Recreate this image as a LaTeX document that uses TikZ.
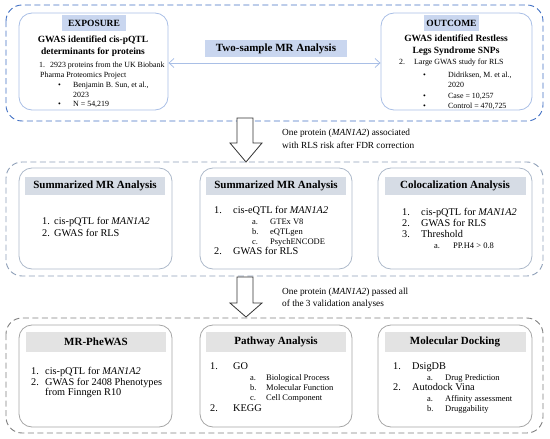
\documentclass[tikz,border=0pt]{standalone}
\usepackage{fontspec}
\setmainfont{Liberation Serif}
\usetikzlibrary{arrows.meta}
\definecolor{bOut}{HTML}{4472C4}
\definecolor{bIn}{HTML}{A9BFE6}
\definecolor{bFill}{HTML}{C9D6EF}
\definecolor{gOut}{HTML}{8FA0B8}
\definecolor{gIn}{HTML}{ADB9CA}
\definecolor{gFill}{HTML}{D6DCE5}
\definecolor{kOut}{HTML}{808080}
\definecolor{kIn}{HTML}{A6A6A6}
\definecolor{kFill}{HTML}{E3E3E3}
\tikzset{
  outerbox/.style={draw, dashed, dash pattern=on 6pt off 3.5pt, line width=0.9pt, rounded corners=16pt},
  innerbox/.style={draw, line width=0.8pt, rounded corners=13pt, fill=white},
  hdr/.style={inner sep=0pt, font=\bfseries\fontsize{11}{13}\selectfont},
  hdrs/.style={inner sep=0pt, font=\bfseries\fontsize{9.5}{11}\selectfont},
  ttl/.style={inner sep=0pt, align=center, font=\bfseries\fontsize{9.5}{12}\selectfont},
  tb/.style={inner sep=0pt, anchor=mid west, font=\fontsize{7.9}{10}\selectfont},
  tx/.style={inner sep=0pt, anchor=mid west, font=\fontsize{10.3}{12}\selectfont},
  ts/.style={inner sep=0pt, anchor=mid west, font=\fontsize{8.5}{10}\selectfont},
  lbl/.style={inner sep=0pt, anchor=mid west, font=\fontsize{9.3}{11}\selectfont},
  blockarrow/.style={draw=black!80, line width=0.8pt, fill=white},
}
\begin{document}
\begin{tikzpicture}[x=1pt,y=-1pt]
\useasboundingbox (0,0) rectangle (550,439);
% ---------- Row 1 ----------
\draw[outerbox, draw=bOut] (6,5) rectangle (543,121);
\node[innerbox, draw=bIn, minimum width=149pt, minimum height=97pt] (expo) at (93.5,61.5) {};
\node[innerbox, draw=bIn, minimum width=151pt, minimum height=97pt] (outc) at (456.5,61.5) {};
\fill[bFill] (62,15) rectangle (126,31);
\node[hdrs] (expoh) at (94,23) {EXPOSURE};
\fill[bFill] (424,15) rectangle (479,31);
\node[hdrs] (outch) at (451.5,23) {OUTCOME};
\node[ttl] (expot) at (93,46.5) {GWAS identified cis-pQTL\\determinants for proteins};
\node[ttl] (outct) at (456,45.5) {GWAS identified Restless\\Legs Syndrome SNPs};
\node[tb] (e1n) at (39,65) {1.};
\node[tb] (e1t) at (50,65) {2923 proteins from the UK Biobank};
\node[tb] (e1u) at (40,75) {Pharma Proteomics Project};
\node[tb] (e1b1) at (58,85) {\textbullet};
\node[tb] (e1b1t) at (73,85) {Benjamin B. Sun, et al.,};
\node[tb] (e1b1u) at (73,95) {2023};
\node[tb] (e1b2) at (58,104) {\textbullet};
\node[tb] (e1b2t) at (73,104) {N = 54,219};
\node[tb] (o2n) at (399,62) {2.};
\node[tb] (o2t) at (414,62) {Large GWAS study for RLS};
\node[tb] (o2b1) at (423,75.5) {\textbullet};
\node[tb] (o2b1t) at (448,75.5) {Didriksen, M. et al.,};
\node[tb] (o2b1u) at (448,85.5) {2020};
\node[tb] (o2b2) at (423,96) {\textbullet};
\node[tb] (o2b2t) at (448,96) {Case = 10,257};
\node[tb] (o2b3) at (423,106) {\textbullet};
\node[tb] (o2b3t) at (448,106) {Control = 470,725};
\draw[bIn, line width=0.8pt, {Straight Barb[length=5pt,width=9pt]}-{Straight Barb[length=5pt,width=9pt]}]
  ([yshift=-1.5pt]expo.east) -- ([yshift=-1.5pt]outc.west);
\node[hdr, fill=bFill, minimum width=142pt, minimum height=17pt] (two) at (276,48.5) {Two-sample MR Analysis};
% ---------- Block arrow 1 ----------
\draw[blockarrow] (237,118) -- (253,118) -- (253,143) -- (262,143) -- (246,162) -- (230,143) -- (237,143) -- cycle;
\node[lbl] (l1a) at (282,133.5) {One protein (\textit{MAN1A2}) associated};
\node[lbl] (l1b) at (282,146.5) {with RLS risk after FDR correction};
% ---------- Row 2 ----------
\draw[outerbox, draw=gOut] (6,162) rectangle (543,276);
\node[innerbox, draw=gIn, minimum width=153pt, minimum height=101pt] (sm1) at (95.5,218.5) {};
\node[innerbox, draw=gIn, minimum width=152pt, minimum height=101pt] (sm2) at (276,218.5) {};
\node[innerbox, draw=gIn, minimum width=154pt, minimum height=101pt] (col) at (455,218.5) {};
\node[hdr, fill=gFill, minimum width=140pt, minimum height=18pt] (sm1h) at (95,186) {Summarized MR Analysis};
\node[hdr, fill=gFill, minimum width=140pt, minimum height=18pt] (sm2h) at (276,186) {Summarized MR Analysis};
\node[hdr, fill=gFill, minimum width=141pt, minimum height=18pt] (colh) at (455,186) {Colocalization Analysis};
\node[tx] (a1n) at (42,222) {1.};
\node[tx] (a1t) at (54,222) {cis-pQTL for \textit{MAN1A2}};
\node[tx] (a2n) at (42,234) {2.};
\node[tx] (a2t) at (54,234) {GWAS for RLS};
\node[tx] (b1n) at (214,211) {1.};
\node[tx] (b1t) at (233,211) {cis-eQTL for \textit{MAN1A2}};
\node[ts] (b1an) at (252,222) {a.};
\node[ts] (b1at) at (270,222) {GTEx V8};
\node[ts] (b1bn) at (252,232) {b.};
\node[ts] (b1bt) at (270,232) {eQTLgen};
\node[ts] (b1cn) at (252,242) {c.};
\node[ts] (b1ct) at (270,242) {PsychENCODE};
\node[tx] (b2n) at (214,252.5) {2.};
\node[tx] (b2t) at (233,252.5) {GWAS for RLS};
\node[tx] (c1n) at (402,213) {1.};
\node[tx] (c1t) at (421,213) {cis-pQTL for \textit{MAN1A2}};
\node[tx] (c2n) at (402,224) {2.};
\node[tx] (c2t) at (421,224) {GWAS for RLS};
\node[tx] (c3n) at (402,235) {3.};
\node[tx] (c3t) at (421,235) {Threshold};
\node[ts] (c3an) at (434,246.5) {a.};
\node[ts] (c3at) at (453,246.5) {PP.H4 > 0.8};
% ---------- Block arrow 2 ----------
\draw[blockarrow] (237,277) -- (253,277) -- (253,303) -- (262,303) -- (246,317) -- (230,303) -- (237,303) -- cycle;
\node[lbl] (l2a) at (282,292.5) {One protein (\textit{MAN1A2}) passed all};
\node[lbl] (l2b) at (282,304) {of the 3 validation analyses};
% ---------- Row 3 ----------
\draw[outerbox, draw=kOut] (6,318) rectangle (543,433);
\node[innerbox, draw=kIn, minimum width=153pt, minimum height=102pt] (phe) at (95.5,376) {};
\node[innerbox, draw=kIn, minimum width=152pt, minimum height=102pt] (pth) at (276,376) {};
\node[innerbox, draw=kIn, minimum width=154pt, minimum height=102pt] (dock) at (455,376) {};
\node[hdr, fill=kFill, minimum width=140pt, minimum height=20pt] (pheh) at (96,342) {MR-PheWAS};
\node[hdr, fill=kFill, minimum width=140pt, minimum height=20pt] (pthh) at (276,342) {Pathway Analysis};
\node[hdr, fill=kFill, minimum width=141pt, minimum height=20pt] (dockh) at (455,342) {Molecular Docking};
\node[tx] (p1n) at (31,372) {1.};
\node[tx] (p1t) at (45,372) {cis-pQTL for \textit{MAN1A2}};
\node[tx] (p2n) at (31,383) {2.};
\node[tx] (p2t) at (45,383) {GWAS for 2408 Phenotypes};
\node[tx] (p2u) at (45,393.5) {from Finngen R10};
\node[tx] (q1n) at (210,367) {1.};
\node[tx] (q1t) at (233,367) {GO};
\node[ts] (q1an) at (250,378) {a.};
\node[ts] (q1at) at (266,378) {Biological Process};
\node[ts] (q1bn) at (250,388) {b.};
\node[ts] (q1bt) at (266,388) {Molecular Function};
\node[ts] (q1cn) at (250,398) {c.};
\node[ts] (q1ct) at (266,398) {Cell Component};
\node[tx] (q2n) at (210,409) {2.};
\node[tx] (q2t) at (233,409) {KEGG};
\node[tx] (r1n) at (393,367) {1.};
\node[tx] (r1t) at (412,367) {DsigDB};
\node[ts] (r1an) at (427,378) {a.};
\node[ts] (r1at) at (445,378) {Drug Prediction};
\node[tx] (r2n) at (393,388) {2.};
\node[tx] (r2t) at (412,388) {Autodock Vina};
\node[ts] (r2an) at (427,399) {a.};
\node[ts] (r2at) at (445,399) {Affinity assessment};
\node[ts] (r2bn) at (427,409) {b.};
\node[ts] (r2bt) at (445,409) {Druggability};
\end{tikzpicture}
\end{document}
